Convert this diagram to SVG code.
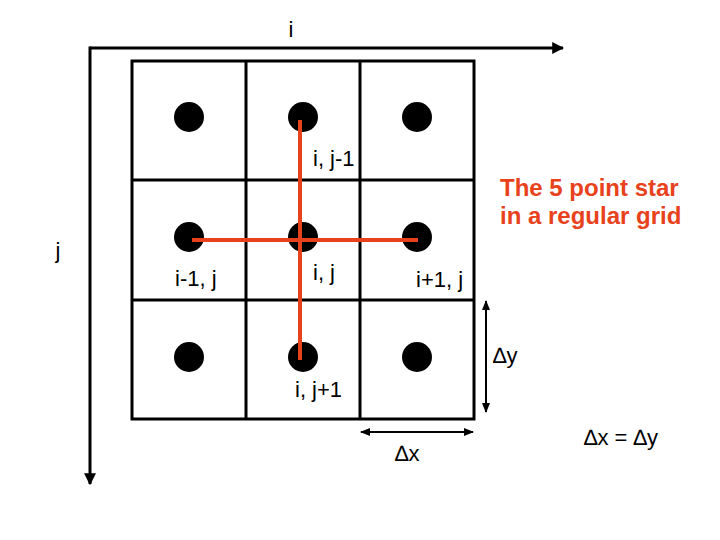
<svg xmlns="http://www.w3.org/2000/svg" width="720" height="540" viewBox="0 0 720 540">
<style>
.t{font-family:"Liberation Sans",Arial,sans-serif;font-size:22px;fill:#000}
.r{font-family:"Liberation Sans",Arial,sans-serif;font-size:24px;font-weight:bold;fill:#e8421c}
.g{stroke:#000;stroke-width:3;fill:none}
.d{fill:#000}
.red{stroke:#e8421c;stroke-width:4;fill:none}
.ax{stroke:#000;stroke-width:3;fill:none}
.dim{stroke:#000;stroke-width:2;fill:none}
</style>
<defs>
<marker id="ah" viewBox="0 0 10 10" refX="9" refY="5" markerWidth="4" markerHeight="4" orient="auto">
<path d="M0,0 L10,5 L0,10 z" fill="#000"/>
</marker>
<marker id="ahs" viewBox="0 0 10 10" refX="9" refY="5" markerWidth="5" markerHeight="5" orient="auto-start-reverse">
<path d="M0,1 L10,5 L0,9 z" fill="#000"/>
</marker>
</defs>
<rect width="720" height="540" fill="#fff"/>
<g id="axes">
<line class="ax" x1="90" y1="48" x2="563" y2="48" marker-end="url(#ah)"/>
<line class="ax" x1="90" y1="46.5" x2="90" y2="484" marker-end="url(#ah)"/>
<text class="t" x="291" y="37" text-anchor="middle">i</text>
<text class="t" x="58" y="258" text-anchor="middle">j</text>
</g>
<g id="grid">
<rect class="g" x="132" y="61" width="342" height="358"/>
<line class="g" x1="246" y1="61" x2="246" y2="419"/>
<line class="g" x1="360" y1="61" x2="360" y2="419"/>
<line class="g" x1="132" y1="180" x2="474" y2="180"/>
<line class="g" x1="132" y1="300" x2="474" y2="300"/>
</g>
<g id="nodes">
<circle class="d" cx="189" cy="117" r="15"/>
<circle class="d" cx="303" cy="117" r="15"/>
<circle class="d" cx="417" cy="117" r="15"/>
<circle class="d" cx="189" cy="237" r="15"/>
<circle class="d" cx="303" cy="237" r="15"/>
<circle class="d" cx="417" cy="237" r="15"/>
<circle class="d" cx="189" cy="357" r="15"/>
<circle class="d" cx="303" cy="357" r="15"/>
<circle class="d" cx="417" cy="357" r="15"/>
</g>
<g id="connectors">
<line class="red" x1="300" y1="120" x2="300" y2="360"/>
<line class="red" x1="192" y1="240" x2="418" y2="240"/>
</g>
<g id="labels">
<text class="t" x="313" y="166">i, j-1</text>
<text class="t" x="175" y="286">i-1, j</text>
<text class="t" x="313" y="280">i, j</text>
<text class="t" x="416" y="287">i+1, j</text>
<text class="t" x="295" y="397">i, j+1</text>
<text class="r" x="500" y="196">The 5 point star</text>
<text class="r" x="500" y="224">in a regular grid</text>
</g>
<g id="dimensions">
<line class="dim" x1="486" y1="301" x2="486" y2="412" marker-start="url(#ahs)" marker-end="url(#ahs)"/>
<line class="dim" x1="361" y1="432" x2="473" y2="432" marker-start="url(#ahs)" marker-end="url(#ahs)"/>
<text class="t" x="493" y="363">∆y</text>
<text class="t" x="395" y="461">∆x</text>
<text class="t" x="584" y="445">∆x = ∆y</text>
</g>
</svg>
